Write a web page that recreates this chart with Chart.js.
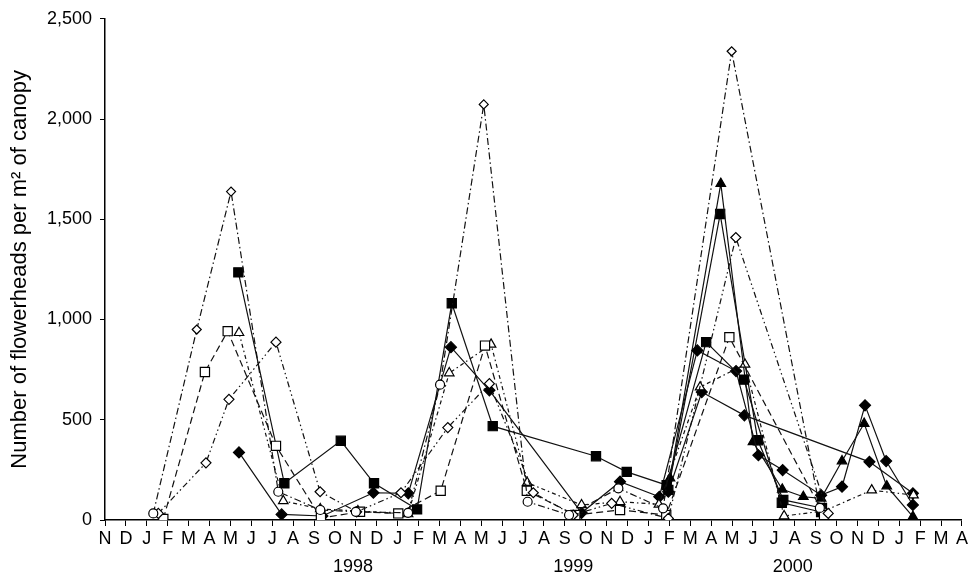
<!DOCTYPE html>
<html><head><meta charset="utf-8">
<script src="https://cdn.jsdelivr.net/npm/chart.js@4/dist/chart.umd.min.js"></script>
<style>html,body{margin:0;padding:0;background:#fff;}</style>
</head><body>
<canvas id="c" width="970" height="579"></canvas>
<script>
// ---------- DATA ----------
const monthLabels = ['N','D','J','F','M','A','M','J','J','A','S','O','N','D','J','F','M','A','M','J','J','A','S','O','N','D','J','F','M','A','M','J','J','A','S','O','N','D','J','F','M','A'];
const yearLabels = ['1998','1999','2000'];
const yearPositions = [11.87, 22.4, 32.9];
const yTicks = [0, 500, 1000, 1500, 2000, 2500];

// open circle / diamond peaks (tallest), dash-dot
const circleX = [2.31, 4.39, 6.03, 8.29, 10.3, 12.0, 14.5, 16.03, 18.12, 20.22, 22.2, 24.56, 26.7, 29.98, 34.2];
const circleY = [33, 950, 1638, 141, 50, 41, 36, 675, 2073, 91, 25, 158, 58, 2338, 60];
// open diamond
const openDiamondX = [2.55, 4.83, 5.93, 8.18, 10.29, 12.04, 14.16, 16.4, 18.39, 20.49, 22.4, 24.24, 26.95, 30.18, 34.6];
const openDiamondY = [33, 285, 602, 887, 141, 41, 136, 461, 680, 136, 25, 83, 8, 1409, 33];
// open square
const openSquareX = [2.79, 4.78, 5.87, 8.18, 10.33, 12.2, 14.03, 16.06, 18.18, 20.18, 22.5, 24.64, 26.85, 29.87, 34.4];
const openSquareY = [5, 738, 942, 370, 10, 41, 33, 146, 870, 146, 25, 50, 25, 912, 25];
// open triangle
const openTriangleX = [6.41, 8.53, 10.3, 12.1, 14.5, 16.47, 18.47, 20.2, 22.8, 24.64, 26.5, 28.47, 30.62, 32.49, 34.4, 36.68, 38.68];
const openTriangleY = [934, 95, 55, 45, 30, 733, 876, 186, 75, 91, 78, 663, 776, 20, 45, 149, 124];
// filled square
const filledSquareX = [6.38, 8.58, 11.28, 12.87, 14.93, 16.59, 18.55, 23.49, 24.96, 26.87, 28.76, 30.57, 32.38, 34.26];
const filledSquareY = [1235, 183, 395, 183, 53, 1081, 468, 318, 240, 174, 887, 700, 86, 40];
// filled diamond
const filledDiamondX = [6.41, 8.45, 10.4, 12.84, 14.51, 16.55, 18.39, 22.8, 24.64, 26.52, 28.34, 30.19, 31.26, 32.42, 34.26, 35.26, 36.36, 37.37, 38.65];
const filledDiamondY = [337, 28, 20, 136, 133, 862, 647, 36, 191, 116, 846, 743, 323, 249, 124, 166, 572, 294, 75];
// filled triangle
const filledTriangleX = [27.03, 29.46, 31.0, 32.4, 33.41, 34.26, 35.26, 36.32, 37.4, 38.65];
const filledTriangleY = [209, 1678, 390, 153, 116, 108, 294, 481, 169, 17];
// second filled square
const filledSquare2X = [26.95, 29.43, 31.23, 32.45, 34.3];
const filledSquare2Y = [150, 1526, 398, 100, 60];
// filled diamond, sparse sampling
const filledDiamond2X = [26.95, 28.55, 30.59, 36.57, 38.65];
const filledDiamond2Y = [141, 638, 522, 290, 133];

// ---------- CHART ----------
function pts(xs, ys) { return xs.map((x, i) => ({ x: x, y: ys[i] })); }
function ds(label, xs, ys, style, filled, radius, dash) {
  return {
    label: label,
    data: pts(xs, ys),
    borderColor: '#111',
    borderWidth: 1.2,
    borderDash: dash,
    pointStyle: style,
    pointRadius: radius,
    pointBorderWidth: 1.2,
    pointBorderColor: '#000',
    pointBackgroundColor: filled ? '#000' : '#fff',
    fill: false,
    tension: 0
  };
}

const FONT = "'Liberation Sans', Arial, Helvetica, sans-serif";
Chart.defaults.font.family = FONT;
Chart.defaults.color = '#000';

const yearPlugin = {
  id: 'years',
  afterDraw(chart) {
    const ctx = chart.ctx, xs = chart.scales.x;
    ctx.save();
    ctx.font = '18px ' + FONT;
    ctx.fillStyle = '#000';
    ctx.textAlign = 'center';
    ctx.textBaseline = 'middle';
    yearLabels.forEach((t, i) => ctx.fillText(t, xs.getPixelForValue(yearPositions[i]), chart.chartArea.bottom + 47));
    ctx.restore();
  }
};

const peakStyle = c => (c.raw && c.raw.y > 900) ? 'rectRot' : 'circle';

new Chart(document.getElementById('c'), {
  type: 'line',
  data: {
    datasets: [
      ds('A', circleX, circleY, peakStyle, false, 4.5, [7, 3, 1.5, 3]),
      ds('B', openDiamondX, openDiamondY, 'rectRot', false, 5, [6, 3, 1.5, 3, 1.5, 3]),
      ds('C', openSquareX, openSquareY, 'rect', false, 6.5, [7, 4]),
      ds('D', openTriangleX, openTriangleY, 'triangle', false, 5.5, [4, 3, 1.5, 3]),
      ds('E', filledSquareX, filledSquareY, 'rect', true, 6.5, []),
      ds('F', filledDiamondX, filledDiamondY, 'rectRot', true, 5.5, []),
      ds('G', filledTriangleX, filledTriangleY, 'triangle', true, 5.5, []),
      ds('H', filledSquare2X, filledSquare2Y, 'rect', true, 6.5, []),
      ds('I', filledDiamond2X, filledDiamond2Y, 'rectRot', true, 5.5, [])
    ]
  },
  options: {
    responsive: false,
    animation: false,
    devicePixelRatio: 1,
    layout: { padding: { top: 15, right: 8, left: 0, bottom: 0 } },
    plugins: { legend: { display: false }, tooltip: { enabled: false } },
    scales: {
      x: {
        type: 'linear',
        min: 0, max: monthLabels.length - 1,
        ticks: {
          stepSize: 1, autoSkip: false, maxRotation: 0, minRotation: 0,
          font: { size: 18 }, padding: 2,
          callback: v => monthLabels[v] !== undefined ? monthLabels[v] : ''
        },
        grid: { drawOnChartArea: false, drawTicks: true, tickLength: 6, color: '#000', lineWidth: 1 },
        border: { display: true, color: '#000', width: 1.5 },
        afterFit: s => { s.height = 59; }
      },
      y: {
        min: 0, max: 2500,
        afterBuildTicks: s => { s.ticks = yTicks.map(v => ({ value: v })); },
        ticks: {
          font: { size: 18 }, padding: 8,
          callback: v => v.toLocaleString('en-US')
        },
        grid: { drawOnChartArea: false, drawTicks: true, tickLength: 5, color: '#000', lineWidth: 1 },
        border: { display: true, color: '#000', width: 1.5 },
        title: {
          display: true,
          text: 'Number of flowerheads per m\u00B2 of canopy',
          font: { size: 22 },
          padding: { top: 7, bottom: 0 }
        },
        afterFit: s => { s.width = 105; }
      }
    }
  },
  plugins: [yearPlugin]
});
</script>
</body></html>
